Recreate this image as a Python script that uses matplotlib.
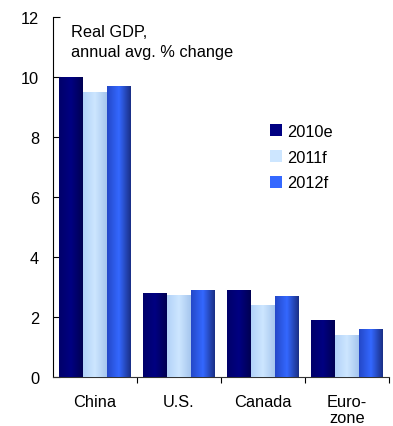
import numpy as np
import matplotlib.pyplot as plt
from matplotlib.colors import LinearSegmentedColormap

plt.rcParams['font.family'] = ['Liberation Sans', 'DejaVu Sans']

regions = ['China', 'U.S.', 'Canada', 'Euro-\nzone']
series = ['2010e', '2011f', '2012f']
gdp_2010e = [10.0, 2.8, 2.9, 1.9]
gdp_2011f = [9.5, 2.75, 2.4, 1.4]
gdp_2012f = [9.7, 2.9, 2.7, 1.6]
yticks = [0, 2, 4, 6, 8, 10, 12]

# horizontal gradients for the bar faces (left, middle, right)
grads = [
    ['#00006a', '#000082', '#000052'],
    ['#b2d2f8', '#cde6ff', '#a6c6ee'],
    ['#2448c8', '#3468ff', '#1a2f86'],
]
solid = ['#000078', '#c6e0ff', '#3366ff']
fs = 11.8

fig = plt.figure(figsize=(3.93, 4.27), dpi=100)
ax = fig.add_axes([53 / 393, 1 - 378 / 427, 336 / 393, 360 / 427])

x = np.arange(len(regions))
w = 0.282
gradient = np.linspace(0, 1, 64).reshape(1, -1)
for i, (vals, name) in enumerate(zip([gdp_2010e, gdp_2011f, gdp_2012f], series)):
    bars = ax.bar(x + (i - 1) * w, vals, width=w, color=solid[i], label=name,
                  linewidth=0, zorder=2)
    cmap = LinearSegmentedColormap.from_list('g%d' % i, grads[i])
    for b in bars:
        x0, y0 = b.get_x(), b.get_y()
        im = ax.imshow(gradient, cmap=cmap, aspect='auto', zorder=3,
                       extent=(x0, x0 + b.get_width(), y0, y0 + b.get_height()))
        im.set_clip_path(b)

ax.set_xlim(-0.5, 3.5)
ax.set_ylim(0, 12)
ax.set_yticks(yticks)
ax.set_xticks(x)
ax.set_xticklabels(regions, linespacing=1.15, va='top')
ax.set_xticks(np.arange(len(regions)) + 0.5, minor=True)
ax.tick_params(axis='x', which='major', length=0, pad=12, labelsize=fs)
ax.tick_params(axis='x', which='minor', length=4, direction='out', width=0.8)
ax.tick_params(axis='y', direction='in', length=5, pad=10, labelsize=fs, width=0.8)

for s in ['top', 'right']:
    ax.spines[s].set_visible(False)
ax.spines['left'].set_linewidth(0.8)
ax.spines['bottom'].set_linewidth(0.8)
ax.spines['bottom'].set_color('#333333')

fig.text(71 / 393, 1 - 25 / 427, 'Real GDP,\nannual avg. % change', fontsize=fs,
         va='top', ha='left', linespacing=1.42)

leg = ax.legend(loc='upper left', bbox_to_anchor=(262 / 393, 1 - 117 / 427),
                bbox_transform=fig.transFigure, frameon=False, fontsize=fs,
                handlelength=0.75, handleheight=0.75, handletextpad=0.3,
                labelspacing=0.65, borderpad=0)
for h, c in zip(leg.legend_handles, grads):
    h.set_facecolor(c[1])

fig.savefig('out.png', dpi=100)
